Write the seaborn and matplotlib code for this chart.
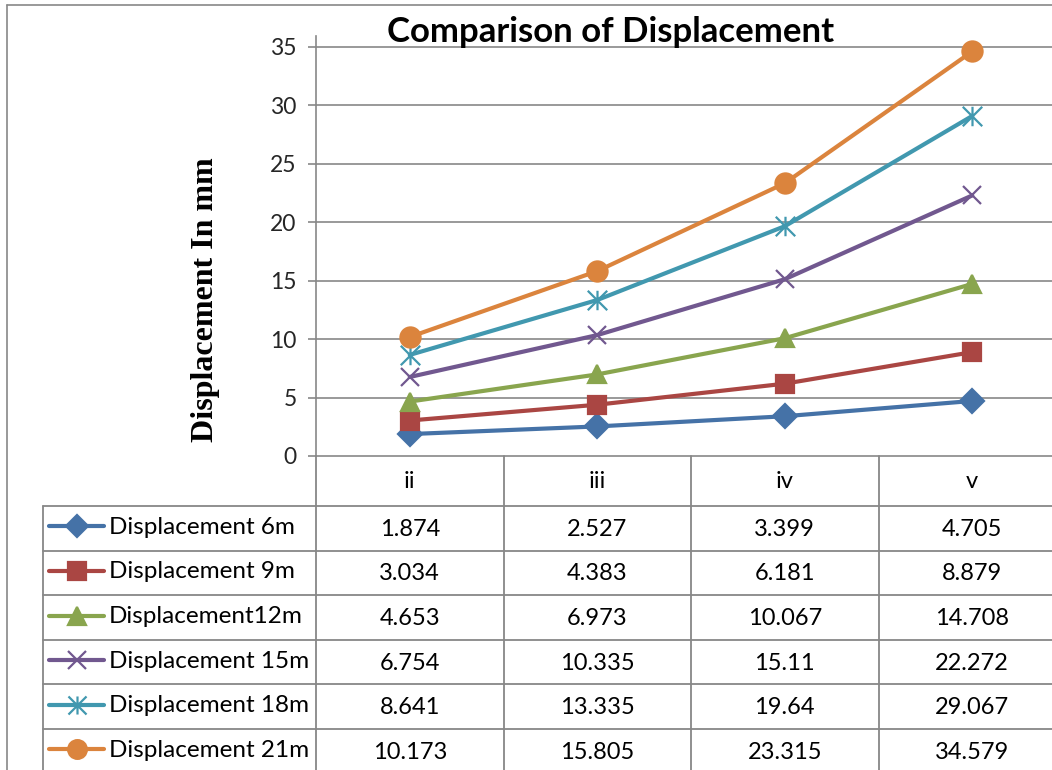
import matplotlib
matplotlib.use("Agg")
import matplotlib.pyplot as plt
from matplotlib.path import Path
from matplotlib.lines import Line2D
import seaborn as sns

# ---- data ----
categories = ["ii", "iii", "iv", "v"]
disp_6m = [1.874, 2.527, 3.399, 4.705]
disp_9m = [3.034, 4.383, 6.181, 8.879]
disp_12m = [4.653, 6.973, 10.067, 14.708]
disp_15m = [6.754, 10.335, 15.11, 22.272]
disp_18m = [8.641, 13.335, 19.64, 29.067]
disp_21m = [10.173, 15.805, 23.315, 34.579]
series_labels = ["Displacement 6m", "Displacement 9m", "Displacement12m",
                 "Displacement 15m", "Displacement 18m", "Displacement 21m"]
y_ticks = [0, 5, 10, 15, 20, 25, 30, 35]

series_values = [disp_6m, disp_9m, disp_12m, disp_15m, disp_18m, disp_21m]

# ---- styling ----
sns.set_theme(style="white")
plt.rcParams["font.family"] = ["Lato", "DejaVu Sans"]

colors = ["#4572A7", "#AA4643", "#89A54E", "#71588F", "#4198AF", "#DB843D"]
star = Path([(0, -1), (0, 1), (-1, -1), (1, 1), (-1, 1), (1, -1)],
            [Path.MOVETO, Path.LINETO] * 3)
markers = ["D", "s", "^", "x", star, "o"]
msizes = [12, 13.5, 13.5, 13.5, 14, 14.5]
grid_col = "#878787"

W, H = 1052, 770
fig = plt.figure(figsize=(W / 100, H / 100), dpi=100)

# plot area in pixel geometry
left_px, right_px, zero_px, top_px = 316, 1066, 456, 36
ax = fig.add_axes([left_px / W, 1 - zero_px / H,
                   (right_px - left_px) / W, (zero_px - top_px) / H])
ax.patch.set_alpha(0)

x_pos = list(range(len(categories)))
for vals, col, mk, ms in zip(series_values, colors, markers, msizes):
    sns.lineplot(x=x_pos, y=vals, ax=ax, color=col, marker=mk, markersize=ms,
                 linewidth=3.0, markeredgecolor=col, markerfacecolor=col,
                 markeredgewidth=1.6, errorbar=None, zorder=3)

ax.set_xlim(-0.5, len(categories) - 0.5)
ax.set_ylim(0, 35.9)
ax.set_yticks(y_ticks)
ax.set_xticks([])
for y in y_ticks[1:]:
    ax.axhline(y, color=grid_col, lw=1.2, zorder=1)
for side in ["top", "right"]:
    ax.spines[side].set_visible(False)
for side in ["left", "bottom"]:
    ax.spines[side].set_color(grid_col)
    ax.spines[side].set_linewidth(1.2)
ax.tick_params(axis="y", direction="out", length=6, width=1.2, color=grid_col,
               labelsize=16.5, pad=8, left=True)
ax.set_ylabel("")

# title and axis title
fig.text(611 / W, 1 - 32 / H, "Comparison of Displacement", ha="center",
         va="center", fontsize=25, fontweight="bold", color="black")
fig.text(205 / W, 1 - 300 / H, "Displacement In mm", rotation=90, ha="center",
         va="center", fontsize=23, fontweight="bold",
         family=["Liberation Serif", "DejaVu Serif"], color="black")

# ---- data table under the plot ----
tab = fig.add_axes([0, 0, 1, 1])
tab.set_xlim(0, W)
tab.set_ylim(H, 0)
tab.axis("off")
tab.patch.set_alpha(0)

col_w = (right_px - left_px) / len(categories)
col_edges = [left_px + i * col_w for i in range(len(categories) + 1)]
head_bot = 506
row_h = 44.6
row_edges = [head_bot + i * row_h for i in range(len(series_values) + 1)]
key_left = 43

lw_t = 1.3
# figure border
tab.plot([7, 7], [5, H + 10], color=grid_col, lw=1.2)
tab.plot([7, W + 10], [5, 5], color=grid_col, lw=1.2)
# vertical lines
for xe in col_edges[1:]:
    tab.plot([xe, xe], [zero_px, H + 10], color=grid_col, lw=lw_t)
tab.plot([left_px, left_px], [zero_px, H + 10], color=grid_col, lw=lw_t)
tab.plot([key_left, key_left], [head_bot, H + 10], color=grid_col, lw=lw_t)
# horizontal lines
for ye in row_edges:
    tab.plot([key_left, W + 10], [ye, ye], color=grid_col, lw=lw_t)

# header labels
for i, c in enumerate(categories):
    tab.text(col_edges[i] + col_w / 2, (zero_px + head_bot) / 2 + 1, c,
             ha="center", va="center", fontsize=17, color="black")

# rows
for r, (lab, vals, col, mk, ms) in enumerate(zip(series_labels, series_values,
                                                 colors, markers, msizes)):
    yc = row_edges[r] + row_h / 2
    tab.add_line(Line2D([49, 104], [yc - 2, yc - 2], color=col, lw=3.0))
    tab.add_line(Line2D([77], [yc - 2], color=col, marker=mk,
                        markersize=ms - 1, markeredgecolor=col,
                        markerfacecolor=col, markeredgewidth=1.6))
    tab.text(109, yc - 1, lab, ha="left", va="center", fontsize=17.5,
             color="black")
    for i, v in enumerate(vals):
        tab.text(col_edges[i] + col_w / 2, yc + 1, f"{v:g}", ha="center",
                 va="center", fontsize=17, color="black")

fig.savefig("out.png", dpi=100, facecolor="white")
